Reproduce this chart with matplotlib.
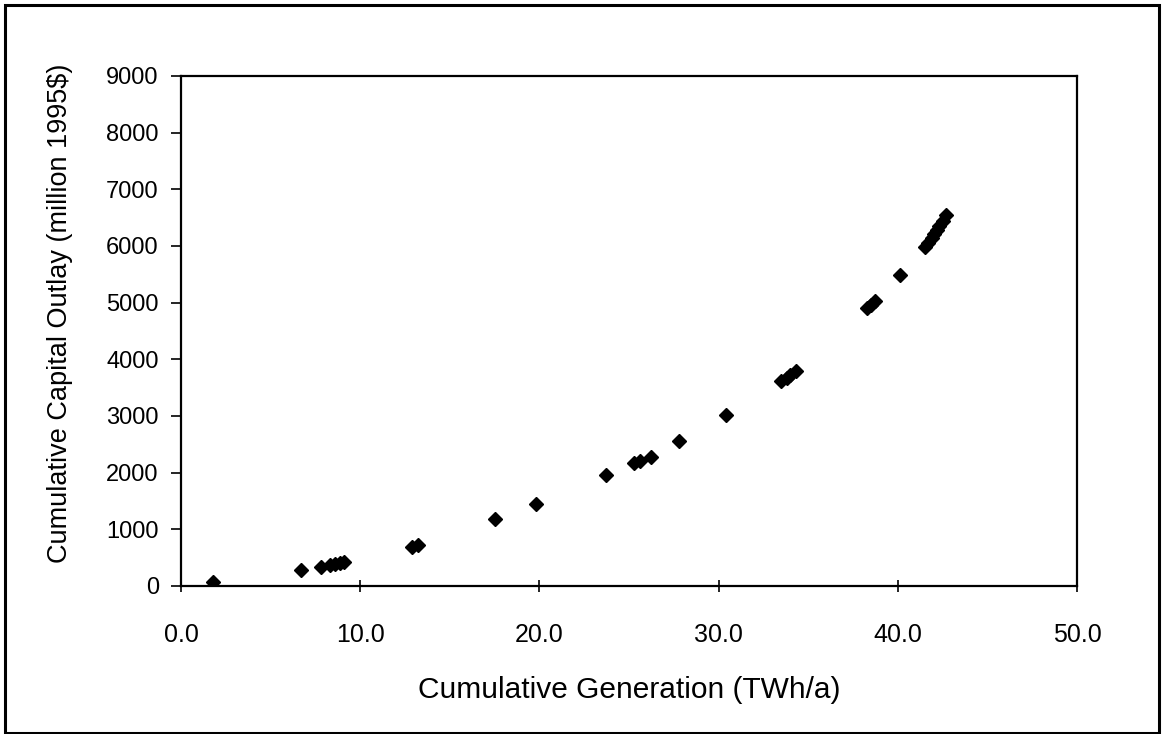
import matplotlib
matplotlib.use("Agg")
import matplotlib.pyplot as plt
from matplotlib.patches import Rectangle

# cumulative generation (TWh/a) vs cumulative capital outlay (million 1995$)
gen = [1.8, 6.7, 7.8, 8.3, 8.6, 8.9, 9.1, 12.9, 13.2, 17.5, 19.8, 23.7,
       25.3, 25.6, 26.2, 27.8, 30.4, 33.5, 33.8, 34.0, 34.3, 38.3, 38.5,
       38.7, 40.1, 41.5, 41.7, 41.9, 42.0, 42.2, 42.3, 42.5, 42.7]
outlay = [75, 285, 340, 370, 390, 410, 430, 680, 720, 1180, 1455, 1955,
          2170, 2210, 2280, 2560, 3010, 3620, 3670, 3720, 3790, 4900, 4960,
          5030, 5490, 5980, 6060, 6150, 6220, 6290, 6360, 6440, 6540]

xticks = [0, 10, 20, 30, 40, 50]
yticks = [0, 1000, 2000, 3000, 4000, 5000, 6000, 7000, 8000, 9000]

plt.rcParams['font.family'] = ['Liberation Sans', 'DejaVu Sans']

fig = plt.figure(figsize=(11.62, 7.34), dpi=100)
ax = fig.add_axes([181/1162, 1-586/734, (1077-181)/1162, (586-76)/734])

ax.plot(gen, outlay, linestyle='none', marker='D', ms=7.5, color='black')

ax.set_xlim(0, 50)
ax.set_ylim(0, 9000)
ax.set_xticks(xticks)
ax.set_xticklabels(['%.1f' % v for v in xticks])
ax.set_yticks(yticks)
ax.tick_params(axis='x', direction='inout', length=9, width=1.2, pad=22, labelsize=18)
ax.tick_params(axis='y', direction='out', length=7, width=1.2, pad=9, labelsize=17)
for s in ax.spines.values():
    s.set_linewidth(1.6)

ax.set_xlabel('Cumulative Generation (TWh/a)', fontsize=21.5)
ax.xaxis.set_label_coords(0.5, -0.176)
ax.set_ylabel('Cumulative Capital Outlay (million 1995$)', fontsize=19.5)
ax.yaxis.set_label_coords(-0.12, 0.535)

# outer frame of the scanned figure
fig.patches.append(Rectangle((5/1162, 1/734), 1154/1162, 728/734, transform=fig.transFigure,
                             fill=False, edgecolor='black', linewidth=2.2))

fig.savefig('out.png', dpi=100)
